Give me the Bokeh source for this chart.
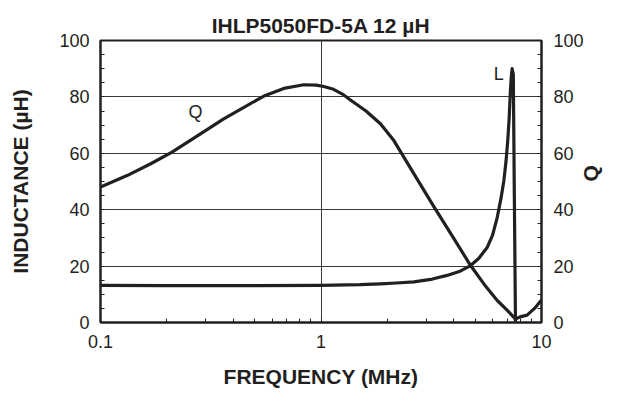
import math
from bokeh.plotting import figure
from bokeh.models import Range1d, LinearAxis, FixedTicker, Label
from bokeh.core.properties import value
from bokeh.embed import file_html
from bokeh.resources import INLINE

title_text = "IHLP5050FD-5A 12 µH"
x_label = "FREQUENCY (MHz)"
y_label = "INDUCTANCE (µH)"
y2_label = "Q"

# Inductance curve (MHz, µH)
l_freq = [0.1, 0.2, 0.5, 1.0, 1.5, 1.86, 2.2, 2.64, 3.2, 3.73, 4.3, 4.77, 5.2, 5.68, 6.0, 6.3, 6.55, 6.75, 6.9, 7.03, 7.13, 7.23, 7.3, 7.36, 7.45, 7.53, 7.62]
l_vals = [13.2, 13.1, 13.1, 13.2, 13.4, 13.7, 14.0, 14.4, 15.4, 16.7, 18.3, 20.2, 22.8, 26.7, 31.0, 37.3, 44.0, 50.3, 57.0, 64.5, 72.0, 82.3, 87.5, 90.0, 88.0, 45.0, 0.3]

# Q curve (MHz, Q)
q_freq = [0.1, 0.132, 0.169, 0.211, 0.284, 0.362, 0.447, 0.551, 0.678, 0.836, 0.95, 1.03, 1.14, 1.25, 1.36, 1.6, 1.86, 2.14, 2.64, 3.26, 4.0, 4.77, 5.5, 6.3, 7.0, 7.62, 8.0, 8.6, 9.3, 10.0]
q_vals = [48.0, 52.1, 56.3, 60.4, 66.9, 72.2, 76.3, 80.3, 83.0, 84.3, 84.2, 83.7, 82.7, 81.0, 78.9, 75.0, 70.5, 64.5, 52.7, 40.9, 29.8, 20.2, 13.5, 7.8, 4.3, 1.2, 2.0, 2.6, 5.0, 8.0]

x_major = [0.1, 1, 10]
x_minor = [0.2, 0.3, 0.4, 0.5, 0.6, 0.7, 0.8, 0.9, 2, 3, 4, 5, 6, 7, 8, 9]
x_tick_labels = ["0.1", "1", "10"]
y_major = [0, 20, 40, 60, 80, 100]
y_minor = [5, 10, 15, 25, 30, 35, 45, 50, 55, 65, 70, 75, 85, 90, 95]

curve_labels = ["Q", "L"]
curve_label_x = [0.27, 6.4]
curve_label_y = [74.6, 88.2]

FONT = "Liberation Sans"
INK = "#231f20"

p = figure(width=618, height=393, x_axis_type="log",
           x_range=Range1d(0.1, 10), y_range=Range1d(0, 100),
           output_backend="svg", toolbar_location=None,
           min_border_left=100, min_border_right=77,
           min_border_top=40, min_border_bottom=71)
p.extra_y_ranges = {"q": Range1d(0, 100)}

p.title.text = title_text
p.title.align = "center"
p.title.text_font = FONT
p.title.text_font_size = "21px"
p.title.text_font_style = "bold"
p.title.text_color = INK
p.title.standoff = 8

p.outline_line_color = INK
p.outline_line_width = 2
p.outline_line_alpha = 1
p.background_fill_color = "white"
p.border_fill_color = "white"

# x axis
xa = p.xaxis[0]
xa.ticker = FixedTicker(ticks=x_major, minor_ticks=x_minor)
xa.major_label_overrides = {t: s for t, s in zip(x_major, x_tick_labels)}

# y axis
ya = p.yaxis[0]
ya.ticker = FixedTicker(ticks=y_major, minor_ticks=y_minor)

ra = LinearAxis(y_range_name="q", ticker=FixedTicker(ticks=y_major, minor_ticks=y_minor))
p.add_layout(ra, "right")

for ax in [xa, ya, ra]:
    ax.axis_line_color = INK
    ax.axis_line_width = 2
    ax.major_tick_in = 4
    ax.major_tick_out = 0
    ax.minor_tick_in = 4
    ax.minor_tick_out = 0
    ax.major_tick_line_color = INK
    ax.minor_tick_line_color = INK
    ax.major_tick_line_width = 1
    ax.minor_tick_line_width = 1
    ax.major_label_text_font = FONT
    ax.major_label_text_font_size = "18px"
    ax.major_label_text_color = INK
    ax.axis_label_text_font = FONT
    ax.axis_label_text_font_size = "21px"
    ax.axis_label_text_font_style = "bold"
    ax.axis_label_text_color = INK

xa.axis_label = x_label
xa.major_label_standoff = 12
xa.axis_label_standoff = 14
ya.axis_label = y_label
ya.major_label_standoff = 11
ya.axis_label_standoff = 24
ra.major_label_standoff = 12

# right axis title, reading bottom-to-top like the left one
try:
    ra.axis_label_orientation = math.pi / 2
    ra.axis_label = y2_label
    ra.axis_label_standoff = 4
except Exception:
    p.add_layout(Label(x=601, y=212, x_units="screen", y_units="screen",
                       text=y2_label, angle=math.pi / 2,
                       text_font=FONT, text_font_size="21px", text_font_style="bold",
                       text_color=INK, text_align="center", text_baseline="middle"))

p.xgrid.ticker = FixedTicker(ticks=[1])
p.ygrid.ticker = FixedTicker(ticks=[20, 40, 60, 80])
for g in [p.xgrid[0], p.ygrid[0]]:
    g.grid_line_color = "#3a3a3a"
    g.grid_line_width = 1
    g.grid_line_alpha = 1

p.line(l_freq, l_vals, line_color=INK, line_width=3.2, line_join="round")
p.line(q_freq, q_vals, line_color=INK, line_width=3.2, line_join="round", y_range_name="q")

p.text(x=curve_label_x, y=curve_label_y, text=curve_labels,
       text_font=value(FONT), text_font_size="18px", text_color=INK,
       text_align="center", text_baseline="middle")

open("out.html", "w").write(file_html(p, INLINE))
